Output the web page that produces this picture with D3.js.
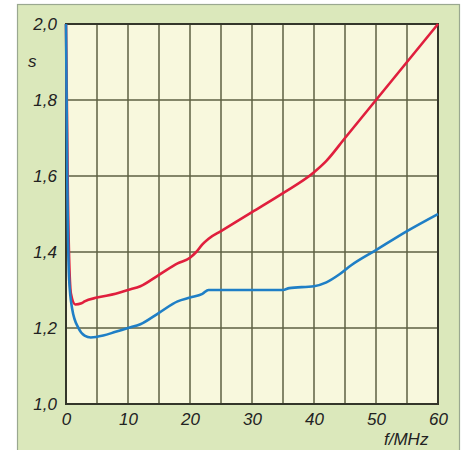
<!DOCTYPE html>
<html>
<head>
<meta charset="utf-8">
<script src="https://cdn.jsdelivr.net/npm/d3@7"></script>
<style>
  body { margin: 0; background: #fff; }
  svg { display: block; }
</style>
</head>
<body>
<div class="SwrChart"></div>
<script>
// frequency in MHz, s = SWR
const redFreq  = [0, 0.3, 0.8, 1.5, 2.5, 3, 5, 8, 10, 12, 15, 18, 20, 21, 22, 23, 25, 30, 35, 40, 42, 45, 50, 55, 60];
const redSwr   = [2.0, 1.55, 1.29, 1.262, 1.265, 1.27, 1.28, 1.29, 1.30, 1.31, 1.34, 1.37, 1.385, 1.40, 1.42, 1.435, 1.455, 1.505, 1.555, 1.61, 1.64, 1.70, 1.80, 1.90, 2.0];
const blueFreq = [0, 0.2, 0.5, 1, 2, 3, 4, 6, 8, 10, 12, 15, 18, 20, 22, 23, 25, 30, 35, 36, 40, 42, 44, 46, 50, 55, 60];
const blueSwr  = [2.0, 1.6, 1.33, 1.25, 1.2, 1.18, 1.175, 1.18, 1.19, 1.2, 1.21, 1.24, 1.27, 1.28, 1.29, 1.30, 1.30, 1.30, 1.30, 1.305, 1.31, 1.32, 1.34, 1.365, 1.405, 1.455, 1.50];
const xTicks = [0, 10, 20, 30, 40, 50, 60];
const yTicks = [1.0, 1.2, 1.4, 1.6, 1.8, 2.0];

const W = 465, H = 450;
const margin = {top: 24, right: 27, bottom: 46, left: 66};
const width = W - margin.left - margin.right,
      height = H - margin.top - margin.bottom;

const svg = d3.select(".SwrChart").append("svg")
    .attr("width", W)
    .attr("height", H);

// green panel behind the chart
svg.append("rect")
    .attr("x", 17.5).attr("y", 4.5)
    .attr("width", 442).attr("height", 460)
    .attr("fill", "#dbe8bb")
    .attr("stroke", "#9aa890")
    .attr("stroke-width", 1.2);

const g = svg.append("g")
    .attr("transform", "translate(" + margin.left + "," + margin.top + ")");

const x = d3.scaleLinear().domain([0, 60]).range([0, width]);
const y = d3.scaleLinear().domain([1.0, 2.0]).range([height, 0]);

g.append("rect")
    .attr("width", width).attr("height", height)
    .attr("fill", "#f8f8dd");

// grid
g.append("g")
    .selectAll("line")
    .data(d3.range(5, 60, 5))
    .join("line")
    .attr("x1", d => x(d)).attr("x2", d => x(d))
    .attr("y1", 0).attr("y2", height)
    .attr("stroke", "#5e6142")
    .attr("stroke-width", 1.5);

g.append("g")
    .selectAll("line")
    .data(yTicks.slice(1, -1))
    .join("line")
    .attr("x1", 0).attr("x2", width)
    .attr("y1", d => y(d)).attr("y2", d => y(d))
    .attr("stroke", "#5e6142")
    .attr("stroke-width", 1.5);

g.append("rect")
    .attr("width", width).attr("height", height)
    .attr("fill", "none")
    .attr("stroke", "#34362a")
    .attr("stroke-width", 2);

// axes, only labels
const font = "'Liberation Sans', Arial, sans-serif";
const xAxis = g.append("g")
    .attr("transform", "translate(0," + height + ")")
    .call(d3.axisBottom(x).tickValues(xTicks).tickSize(0).tickPadding(9));
const yAxis = g.append("g")
    .call(d3.axisLeft(y).tickValues(yTicks).tickSize(0).tickPadding(9)
      .tickFormat(d => d3.format(".1f")(d).replace(".", ",")));
[xAxis, yAxis].forEach(a => {
  a.select(".domain").remove();
  a.selectAll("text")
    .style("font-family", font)
    .style("font-size", "17px")
    .style("font-style", "italic")
    .attr("fill", "#222");
});

svg.append("text")
    .attr("x", 28).attr("y", 67)
    .style("font-family", font).style("font-size", "17px").style("font-style", "italic")
    .attr("fill", "#222")
    .text("s");

svg.append("text")
    .attr("x", 384).attr("y", 445)
    .style("font-family", font).style("font-size", "17px").style("font-style", "italic")
    .attr("fill", "#222")
    .text("f/MHz");

// curves
const line = d3.line()
    .x(d => x(d[0]))
    .y(d => y(d[1]))
    .curve(d3.curveMonotoneX);

g.append("path")
    .datum(d3.zip(redFreq, redSwr))
    .attr("fill", "none")
    .attr("stroke", "#e01f3d")
    .attr("stroke-width", 2.6)
    .attr("stroke-linejoin", "round")
    .attr("d", line);

g.append("path")
    .datum(d3.zip(blueFreq, blueSwr))
    .attr("fill", "none")
    .attr("stroke", "#1f7fc6")
    .attr("stroke-width", 2.6)
    .attr("stroke-linejoin", "round")
    .attr("d", line);
</script>
</body>
</html>
